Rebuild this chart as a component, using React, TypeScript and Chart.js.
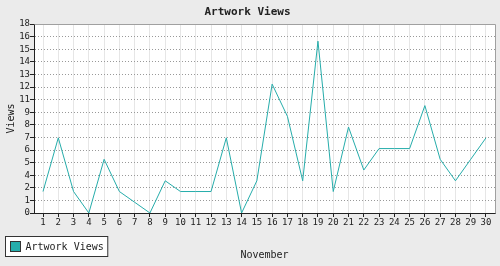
import React, { useEffect, useRef } from 'react';
import { Chart, registerables } from 'chart.js';

Chart.register(...registerables);

const CHART_TITLE = 'Artwork Views';
const SERIES_LABEL = 'Artwork Views';
const X_TITLE = 'November';
const Y_TITLE = 'Views';
const DAYS = ['1','2','3','4','5','6','7','8','9','10','11','12','13','14','15','16','17','18','19','20','21','22','23','24','25','26','27','28','29','30'];
const VIEWS = [2, 7, 2, 0, 5, 2, 1, 0, 3, 2, 2, 2, 7, 0, 3, 12, 9, 3, 16, 2, 8, 4, 6, 6, 6, 10, 5, 3, 5, 7];
const Y_MAX = 17.6;
const Y_TICK_LABELS = ['0','1','2','4','5','6','7','8','9','11','12','13','14','15','16','18'];

const FONT = "'DejaVu Sans Mono', 'Liberation Mono', monospace";
const LINE_COLOR = '#26adab';
const TEXT_COLOR = '#222222';
const X_EDGE = 0.59;

export default function App() {
  const ref = useRef<HTMLCanvasElement>(null);

  useEffect(() => {
    document.body.style.margin = '0';
    const canvas = ref.current!;
    const dayNums = DAYS.map(Number);

    const decor = {
      id: 'decor',
      beforeDraw(chart: any) {
        const { ctx, chartArea: a, width, height } = chart;
        ctx.save();
        ctx.fillStyle = '#ebebeb';
        ctx.fillRect(0, 0, width, height);
        ctx.fillStyle = '#ffffff';
        ctx.fillRect(a.left, a.top, a.right - a.left, a.bottom - a.top);
        ctx.restore();
      },
      afterDraw(chart: any) {
        const { ctx, chartArea: a } = chart;
        ctx.save();
        ctx.strokeStyle = '#a0a0a0';
        ctx.lineWidth = 1;
        ctx.beginPath();
        const l = Math.round(a.left) + 0.5;
        const t = Math.round(a.top) + 0.5;
        const r = Math.round(a.right) + 0.5;
        const b = Math.round(a.bottom) + 0.5;
        ctx.moveTo(l, t);
        ctx.lineTo(r, t);
        ctx.lineTo(r, b);
        ctx.stroke();

        // legend box
        const ds = chart.data.datasets[0];
        ctx.font = `10px ${FONT}`;
        const tw = ctx.measureText(ds.label).width;
        const bx = 5.5, by = 236.5, bh = 20;
        const bw = 20 + tw + 4;
        ctx.fillStyle = '#ffffff';
        ctx.fillRect(bx, by, bw, bh);
        ctx.strokeStyle = '#333333';
        ctx.strokeRect(bx, by, bw, bh);
        ctx.fillStyle = ds.borderColor;
        ctx.fillRect(bx + 5, by + 5, 10, 10);
        ctx.strokeRect(bx + 5, by + 5, 10, 10);
        ctx.fillStyle = TEXT_COLOR;
        ctx.textBaseline = 'middle';
        ctx.textAlign = 'left';
        ctx.fillText(ds.label, bx + 20, by + bh / 2 + 0.5);
        ctx.restore();
      },
    };

    const chart = new Chart(canvas, {
      type: 'line',
      data: {
        datasets: [
          {
            label: SERIES_LABEL,
            data: VIEWS.map((v, i) => ({ x: dayNums[i], y: v })),
            borderColor: LINE_COLOR,
            backgroundColor: LINE_COLOR,
            borderWidth: 1,
            pointRadius: 0,
            tension: 0,
            fill: false,
          },
        ],
      },
      options: {
        responsive: false,
        animation: false,
        layout: { padding: { left: 0, right: 5, top: 0, bottom: 0 } },
        plugins: {
          legend: { display: false },
          tooltip: { enabled: false },
          title: {
            display: true,
            text: CHART_TITLE,
            color: TEXT_COLOR,
            font: { family: FONT, size: 11, weight: 'bold', lineHeight: 1.2 },
            padding: { top: 6, bottom: 4.8 },
          },
        },
        scales: {
          x: {
            type: 'linear',
            min: dayNums[0] - X_EDGE,
            max: dayNums[dayNums.length - 1] + X_EDGE,
            afterFit(scale: any) {
              scale.height = 53;
            },
            afterBuildTicks(scale: any) {
              scale.ticks = dayNums.map((d) => ({ value: d }));
            },
            grid: {
              display: true,
              color: '#e6e6e6',
              lineWidth: 1,
              tickColor: '#222222',
              tickLength: 4,
              drawTicks: true,
            },
            border: { display: true, color: '#222222', width: 1 },
            ticks: {
              color: TEXT_COLOR,
              font: { family: FONT, size: 9 },
              padding: 0,
              autoSkip: false,
              maxRotation: 0,
              minRotation: 0,
              callback: (_v: any, i: number) => DAYS[i],
            },
            title: {
              display: true,
              text: X_TITLE,
              color: TEXT_COLOR,
              font: { family: FONT, size: 10, lineHeight: 1.2 },
              padding: { top: 0, bottom: 5 },
            },
          },
          y: {
            type: 'linear',
            min: 0,
            max: Y_MAX,
            afterFit(scale: any) {
              scale.width = 34;
            },
            afterBuildTicks(scale: any) {
              const n = Y_TICK_LABELS.length - 1;
              scale.ticks = Y_TICK_LABELS.map((_, i) => ({ value: (Y_MAX * i) / n }));
            },
            grid: {
              display: true,
              color: '#999999',
              lineWidth: 1,
              tickColor: '#222222',
              tickBorderDash: [],
              tickLength: 4,
            },
            border: { display: true, color: '#222222', width: 1, dash: [1, 2] },
            ticks: {
              color: TEXT_COLOR,
              font: { family: FONT, size: 9 },
              padding: 0,
              autoSkip: false,
              callback: (_v: any, i: number) => Y_TICK_LABELS[i],
            },
            title: {
              display: true,
              text: Y_TITLE,
              color: TEXT_COLOR,
              font: { family: FONT, size: 10, lineHeight: 1.2 },
              padding: { top: 5, bottom: 0 },
            },
          },
        },
      },
      plugins: [decor],
    } as any);

    return () => chart.destroy();
  }, []);

  return (
    <div style={{ width: 500, height: 266 }}>
      <canvas ref={ref} width={500} height={266} style={{ display: 'block' }} />
    </div>
  );
}
